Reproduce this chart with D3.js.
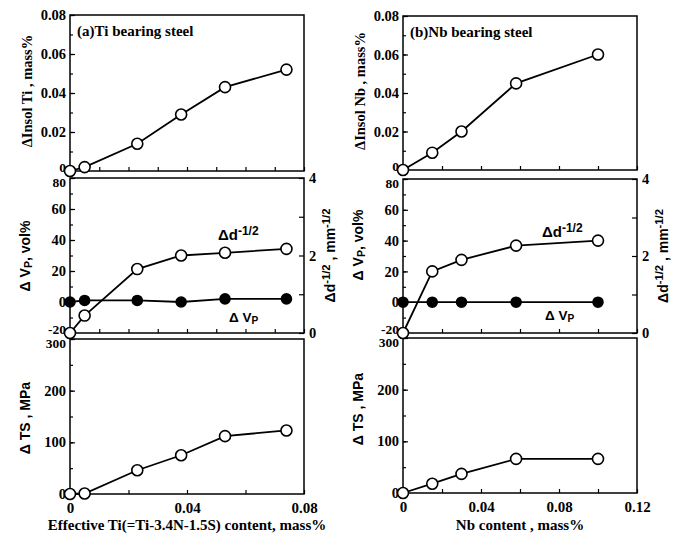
<!DOCTYPE html>
<html>
<head>
<meta charset="utf-8">
<script src="https://cdn.jsdelivr.net/npm/d3@7"></script>
<style>
  body { margin: 0; background: #fff; }
  svg { display: block; }
  .axis path { display: none; }
  .axis line { stroke: #000; stroke-width: 1.2; }
</style>
</head>
<body>
<script>
// Ti bearing steel (left column)
const tiX = [0, 0.005, 0.023, 0.038, 0.053, 0.074];
const tiInsol = [0, 0.002, 0.014, 0.029, 0.043, 0.052];
const tiDd = [0, 0.45, 1.65, 2.0, 2.07, 2.17];
const tiVp = [0, 1, 1, 0, 2, 2];
const tiTS = [0, 1, 46, 75, 112, 123];

// Nb bearing steel (right column)
const nbX = [0, 0.015, 0.03, 0.058, 0.1];
const nbInsol = [0, 0.009, 0.02, 0.045, 0.06];
const nbDd = [0, 1.6, 1.9, 2.27, 2.4];
const nbVp = [0, 0, 0, 0, 0];
const nbTS = [0, 18, 37, 66, 66];

// tick labels
const insolTicks = [0, 0.02, 0.04, 0.06, 0.08];
const vpTicks = [-20, 0, 20, 40, 60, 80];
const ddTicks = [0, 2, 4];
const tsTicks = [0, 100, 200, 300];
const tiXTicks = [0, 0.04, 0.08];
const nbXTicks = [0, 0.04, 0.08, 0.12];

const svg = d3.select('body').append('svg')
  .attr('width', 683)
  .attr('height', 534);

const serif = '"Liberation Serif", "Times New Roman", serif';
const sans = '"Liberation Sans", Arial, sans-serif';

const fmt = v => v === 0 ? '0' : (Math.abs(v) < 1 ? d3.format('.2f')(v) : String(v));

function range(a, b, step) {
  let out = [];
  for (let v = a; v <= b + step / 1000; v += step) out.push(+v.toFixed(4));
  return out;
}

function styleText(g, size) {
  g.selectAll('text')
    .style('font-family', serif)
    .style('font-weight', 'bold')
    .style('font-size', (size || 14) + 'px')
    .attr('fill', '#000');
}

// line and circles for one series
function panel(x, y, xs, ys, filled) {
  let line = d3.line()
    .x((d, i) => x(xs[i]))
    .y(d => y(d));
  svg.append('path')
    .attr('d', line(ys))
    .attr('fill', 'none')
    .attr('stroke', '#000')
    .attr('stroke-width', 1.8);
  svg.append('g').selectAll('circle')
    .data(ys)
    .enter()
    .append('circle')
    .attr('cx', (d, i) => x(xs[i]))
    .attr('cy', d => y(d))
    .attr('r', filled ? 5 : 5.5)
    .attr('fill', filled ? '#000' : '#fff')
    .attr('stroke', '#000')
    .attr('stroke-width', 1.6);
}

function frame(x0, x1, yTop, yBot) {
  svg.append('rect')
    .attr('x', x0).attr('y', yTop)
    .attr('width', x1 - x0).attr('height', yBot - yTop)
    .attr('fill', 'none')
    .attr('stroke', '#000')
    .attr('stroke-width', 1.5);
}

// nudge: {value: dy} to pull crowded end labels apart a little
function leftAxis(x0, y, major, minor, nudge) {
  let g = svg.append('g').attr('class', 'axis')
    .attr('transform', `translate(${x0},0)`)
    .call(d3.axisLeft(y).tickValues(major).tickSize(-5).tickPadding(4).tickFormat(fmt));
  styleText(g, 14.5);
  g.selectAll('.tick text')
    .attr('y', d => (nudge && nudge[d]) || 0)
    .style('font-size', d => nudge && nudge[d] ? '13.5px' : '14.5px');
  svg.append('g').attr('class', 'axis')
    .attr('transform', `translate(${x0},0)`)
    .call(d3.axisLeft(y).tickValues(minor).tickSize(-3).tickFormat(''));
}

function bottomTicks(x, yPos, values, labels) {
  let ax = d3.axisBottom(x).tickValues(values).tickSize(-4).tickPadding(8)
    .tickFormat(v => labels && labels.some(l => Math.abs(l - v) < 1e-6) ? fmt(v) : '');
  let g = svg.append('g').attr('class', 'axis')
    .attr('transform', `translate(0,${yPos})`)
    .call(ax);
  styleText(g, 15);
}

function addParts(t, parts, size) {
  parts.forEach(p => {
    let s = t.append('tspan').text(p.t);
    if (p.sup) s.attr('dy', -size * 0.35).style('font-size', (size * 0.8) + 'px');
    if (p.sub) s.attr('dy', size * 0.15).style('font-size', (size * 0.75) + 'px');
    if (p.back) s.attr('dy', p.back);
  });
}

function rotText(x, y, parts, font, size) {
  let t = svg.append('text')
    .attr('transform', `translate(${x},${y}) rotate(-90)`)
    .attr('text-anchor', 'middle')
    .attr('dy', '0.35em')
    .style('font-family', font)
    .style('font-weight', 'bold')
    .style('font-size', size + 'px');
  addParts(t, parts, size);
}

function plainText(x, y, parts, font, size, anchor) {
  let t = svg.append('text')
    .attr('x', x).attr('y', y)
    .attr('text-anchor', anchor || 'start')
    .style('font-family', font)
    .style('font-weight', 'bold')
    .style('font-size', size + 'px');
  addParts(t, parts, size);
}

function drawColumn(c) {
  let x = d3.scaleLinear().domain([0, c.xMax]).range([c.x0, c.x1]);
  let yIns = d3.scaleLinear().domain([0, 0.08]).range(c.top);
  let yVp = d3.scaleLinear().domain([-20, 80]).range(c.mid);
  let yDd = d3.scaleLinear().domain([0, 4]).range(c.mid);
  let yTs = d3.scaleLinear().domain([0, 300]).range(c.bot);

  frame(c.x0, c.x1, c.top[1], c.top[0]);
  frame(c.x0, c.x1, c.mid[1], c.mid[0]);
  frame(c.x0, c.x1, c.bot[1], c.bot[0]);

  leftAxis(c.x0, yIns, insolTicks, range(0, 0.08, 0.01), {0: -4});
  leftAxis(c.x0, yVp, vpTicks, range(-20, 80, 10), {80: 4, '-20': -4});
  leftAxis(c.x0, yTs, tsTicks, range(0, 300, 50), {300: 4});

  // right axis of the middle panel
  let rg = svg.append('g').attr('class', 'axis')
    .attr('transform', `translate(${c.x1},0)`)
    .call(d3.axisRight(yDd).tickValues(ddTicks).tickSize(-5).tickPadding(5).tickFormat(fmt));
  styleText(rg, 14.5);
  svg.append('g').attr('class', 'axis')
    .attr('transform', `translate(${c.x1},0)`)
    .call(d3.axisRight(yDd).tickValues([1, 3]).tickSize(-5).tickFormat(''));

  bottomTicks(x, c.top[0], range(0, c.xMax, c.upStep));
  bottomTicks(x, c.mid[0], range(0, c.xMax, c.upStep));
  bottomTicks(x, c.bot[0], range(0, c.xMax, c.lowStep), c.xLabels);

  panel(x, yIns, c.xs, c.insol, false);
  panel(x, yVp, c.xs, c.vp, true);
  panel(x, yDd, c.xs, c.dd, false);
  panel(x, yTs, c.xs, c.ts, false);

  plainText(c.x0 + 7, c.top[1] + 21, [{t: c.title}], serif, 15);
  plainText(c.ddLab[0], c.ddLab[1], [{t: 'Δd'}, {t: '-1/2', sup: true}], sans, 15);
  plainText(c.vpLab[0], c.vpLab[1], [{t: 'Δ V'}, {t: 'P', sub: true}], sans, 13.5);

  rotText(c.x0 - 43, (c.top[0] + c.top[1]) / 2 - 2, [{t: c.insolTitle}], serif, 14.5);
  rotText(c.x0 - 45, c.vpTitleY, [{t: 'Δ V'}, {t: 'P', sub: true}, {t: ', vol%', back: -14 * 0.15}], sans, 14);
  rotText(c.x0 - 45, c.tsTitleY, [{t: 'Δ TS , MPa'}], sans, 14);
  rotText(c.x1 + 26, (c.mid[0] + c.mid[1]) / 2, [{t: 'Δd'}, {t: '-1/2', sup: true},
    {t: ' ,  mm', back: 14 * 0.35}, {t: '-1/2', sup: true}], sans, 14);

  plainText((c.x0 + c.x1) / 2, 530, [{t: c.xTitle}], serif, 15, 'middle');
}

drawColumn({
  x0: 70, x1: 304, xMax: 0.08,
  top: [171, 15], mid: [333, 178], bot: [494, 339],
  upStep: 0.01, lowStep: 0.02, xLabels: tiXTicks,
  xs: tiX, insol: tiInsol, vp: tiVp, dd: tiDd, ts: tiTS,
  title: '(a)Ti bearing steel',
  insolTitle: 'ΔInsol Ti , mass%',
  ddLab: [218, 240], vpLab: [229, 322],
  vpTitleY: 256, tsTitleY: 418,
  xTitle: 'Effective Ti(=Ti-3.4N-1.5S) content, mass%'
});

drawColumn({
  x0: 403, x1: 637, xMax: 0.12,
  top: [170, 16], mid: [333, 179], bot: [493, 338],
  upStep: 0.02, lowStep: 0.02, xLabels: nbXTicks,
  xs: nbX, insol: nbInsol, vp: nbVp, dd: nbDd, ts: nbTS,
  title: '(b)Nb bearing steel',
  insolTitle: 'ΔInsol Nb , mass%',
  ddLab: [542, 237], vpLab: [545, 320],
  vpTitleY: 245, tsTitleY: 409,
  xTitle: 'Nb content , mass%'
});
</script>
</body>
</html>
